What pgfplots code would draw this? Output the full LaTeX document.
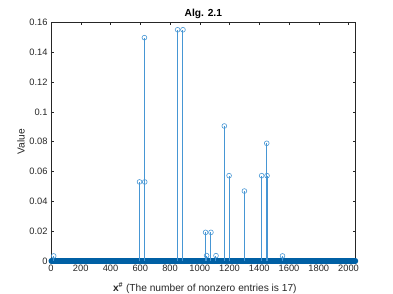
\documentclass[border=0pt]{standalone}
\usepackage{pgfplots}
\pgfplotsset{compat=1.18}
\usepackage{fontspec}
\setmainfont{Liberation Sans}
\definecolor{mblue}{RGB}{0,114,189}
\definecolor{mstem}{RGB}{70,150,212}
\definecolor{mdark}{RGB}{0,96,165}
\definecolor{axc}{RGB}{38,38,38}
\begin{document}
\begin{tikzpicture}
\useasboundingbox (-51bp,-33bp) rectangle (342bp,261bp);
\begin{axis}[at={(0,0)}, anchor=south west, scale only axis,
  width=304.7bp, height=238.7bp,
  xmin=0, xmax=2048, ymin=0, ymax=0.16,
  xtick={0,200,400,600,800,1000,1200,1400,1600,1800,2000},
  ytick={0,0.02,0.04,0.06,0.08,0.1,0.12,0.14,0.16},
  tick align=inside, major tick length=3bp,
  clip=false,
  axis line style={axc, line width=0.5bp},
  tick style={axc, line width=0.5bp},
  ticklabel style={font=\fontsize{9.3bp}{11bp}\selectfont, text=axc},
  /pgf/number format/assume math mode=true,
  /pgf/number format/1000 sep={},
  scaled y ticks=false,
  yticklabel style={/pgf/number format/fixed, /pgf/number format/precision=2},
  every axis title shift=0pt,
  title={\textbf{Alg. 2.1}},
  title style={font=\fontsize{10.2bp}{12bp}\selectfont, at={(axis description cs:0.5,1)}, anchor=base, yshift=5.3bp},
  xlabel={\textbf{x\textsuperscript{\#}} (The number of nonzero entries is 17)},
  xlabel style={font=\fontsize{10.2bp}{12bp}\selectfont, text=axc, at={(axis description cs:0.5,0)}, anchor=center, yshift=-27bp, xshift=1.5bp},
  ylabel={Value},
  ylabel style={font=\fontsize{10.2bp}{12bp}\selectfont, text=axc, at={(axis description cs:-0.0985,0.5)}, anchor=center},
]
\addplot[mdark, line width=5bp, line cap=round] coordinates {(0,0) (2048,0)};
\addplot[ycomb, draw=mstem, color=mstem, line width=1bp, mark=o, mark size=2.4bp, mark options={solid, draw=mstem, line width=0.6bp}] coordinates {
(18,0.0034) (595,0.0530) (628,0.1497) (630,0.0530) (851,0.1550) (887,0.1550)
(1039,0.0192) (1046,0.0036) (1075,0.0192) (1109,0.0036) (1165,0.0905)
(1197,0.0572) (1300,0.0469) (1416,0.0572) (1450,0.0789) (1452,0.0572) (1556,0.0034)
};
\end{axis}
\end{tikzpicture}
\end{document}
